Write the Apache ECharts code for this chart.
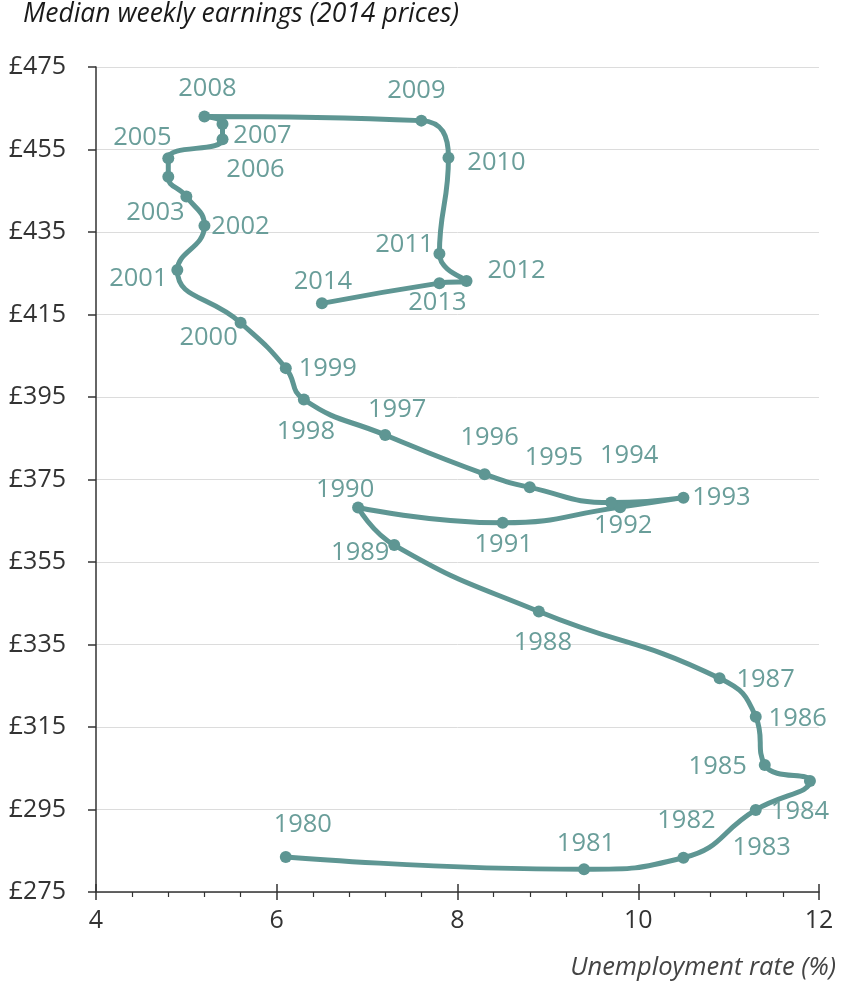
<!DOCTYPE html>
<html lang="en">
<head>
    <meta charset="utf-8">
    <title>Earnings vs unemployment</title>
    <script src="https://cdn.jsdelivr.net/npm/echarts@6/dist/echarts.min.js"></script>
</head>
<body style="margin:0;background:#fff;">
<div id="main" style="width: 847px;height:992px;"></div>
<script type="text/javascript">
    // data
    var years = [1980,1981,1982,1983,1984,1985,1986,1987,1988,1989,1990,1991,1992,1993,1994,1995,1996,1997,
                 1998,1999,2000,2001,2002,2003,2004,2005,2006,2007,2008,2009,2010,2011,2012,2013,2014];
    var unemployment = [6.1,9.4,10.5,11.3,11.9,11.4,11.3,10.9,8.9,7.3,6.9,8.5,9.8,10.5,9.7,8.8,8.3,7.2,
                        6.3,6.1,5.6,4.9,5.2,5.0,4.8,4.8,5.4,5.4,5.2,7.6,7.9,7.8,8.1,7.8,6.5];
    var earnings = [283.5,280.5,283.3,294.9,301.9,305.8,317.5,326.8,343,359.1,368.2,364.5,368.3,370.6,369.4,373.1,376.3,385.8,
                    394.4,402,413,425.8,436.5,443.6,448.4,452.9,457.5,461.2,463,462,453,429.7,423.1,422.6,417.7];
    var yTicks = [275,295,315,335,355,375,395,415,435,455,475];
    var xTicks = [4,6,8,10,12];

    // where each year label sits relative to its point (pixels)
    var labelOffsets = {
        1980:[17,-32],1981:[2,-26],1982:[3,-37],1983:[6,38],1984:[-10,31],1985:[-47,2],1986:[42,2],
        1987:[46,1],1988:[4,31],1989:[-34,8],1990:[-13,-18],1991:[1,22],1992:[3,19],1993:[38,0],
        1994:[18,-47],1995:[24,-30],1996:[5,-36],1997:[12,-25],1998:[2,32],1999:[42,1],2000:[-32,15],
        2001:[-39,9],2002:[36,1],2003:[-31,16],2005:[-26,-20],2006:[33,31],2007:[40,12],2008:[3,-28],
        2009:[-5,-30],2010:[48,5],2011:[-35,-9],2012:[50,-10],2013:[-2,20],2014:[1,-22]
    };

    var teal = '#5e9693';
    var labelTeal = '#6a9e9a';
    var ink = '#333333';
    var font = '"Open Sans", Lato, sans-serif';

    var points = [];
    for (var i = 0; i < years.length; i++) {
        points.push({
            name: labelOffsets[years[i]] ? String(years[i]) : '',
            value: [unemployment[i], earnings[i]]
        });
    }

    var myChart = echarts.init(document.getElementById('main'));
    var option = {
        animation: false,
        backgroundColor: '#ffffff',
        textStyle: {fontFamily: font},
        grid: {left: 96, right: 28, top: 67, bottom: 100},
        graphic: [
            {type: 'text', left: 23, top: 1,
             style: {text: 'Median weekly earnings (2014 prices)', fontSize: 26.5, fontStyle: 'italic',
                     fontFamily: font, fill: '#1a1a1a'}},
            {type: 'text', right: 11, top: 955,
             style: {text: 'Unemployment rate (%)', fontSize: 25.5, fontStyle: 'italic',
                     fontFamily: font, fill: '#444444'}}
        ],
        xAxis: [{
            type: 'value',
            min: xTicks[0], max: xTicks[xTicks.length - 1], interval: 2,
            axisLine: {show: true, onZero: false, lineStyle: {color: ink, width: 1.5}},
            axisTick: {show: true, inside: false, length: 8, lineStyle: {color: ink, width: 1.5}},
            minorTick: {show: true, splitNumber: 5, length: 5, lineStyle: {color: ink, width: 1.2}},
            splitLine: {show: false},
            axisLabel: {color: ink, fontSize: 25, margin: 16, fontFamily: font}
        }, {
            type: 'value',
            position: 'bottom',
            min: xTicks[0], max: xTicks[xTicks.length - 1], interval: 2,
            axisLine: {show: false},
            axisTick: {show: true, inside: true, length: 8, lineStyle: {color: ink, width: 1.5}},
            splitLine: {show: false},
            axisLabel: {show: false}
        }],
        yAxis: {
            type: 'value',
            min: yTicks[0], max: yTicks[yTicks.length - 1], interval: 20,
            axisLine: {show: true, onZero: false, lineStyle: {color: ink, width: 1.5}},
            axisTick: {show: true, inside: false, length: 8, lineStyle: {color: ink, width: 1.5}},
            splitLine: {show: true, lineStyle: {color: '#dcdcdc', width: 1}},
            axisLabel: {color: ink, fontSize: 25, margin: 30, fontFamily: font,
                        formatter: function (v) { return '£' + v; }}
        },
        series: [{
            type: 'line',
            xAxisIndex: 0,
            data: points,
            smooth: 0.5,
            symbol: 'circle',
            symbolSize: 12,
            lineStyle: {color: teal, width: 5},
            itemStyle: {color: teal},
            label: {
                show: true,
                position: 'inside',
                formatter: '{b}',
                color: labelTeal,
                fontSize: 25.5,
                fontFamily: font,
                align: 'center',
                verticalAlign: 'middle'
            },
            labelLayout: function (params) {
                var off = labelOffsets[years[params.dataIndex]] || [0, 0];
                return {dx: off[0], dy: off[1], hideOverlap: false};
            },
            z: 3
        }]
    };

    myChart.setOption(option);
</script>
</body>
</html>
